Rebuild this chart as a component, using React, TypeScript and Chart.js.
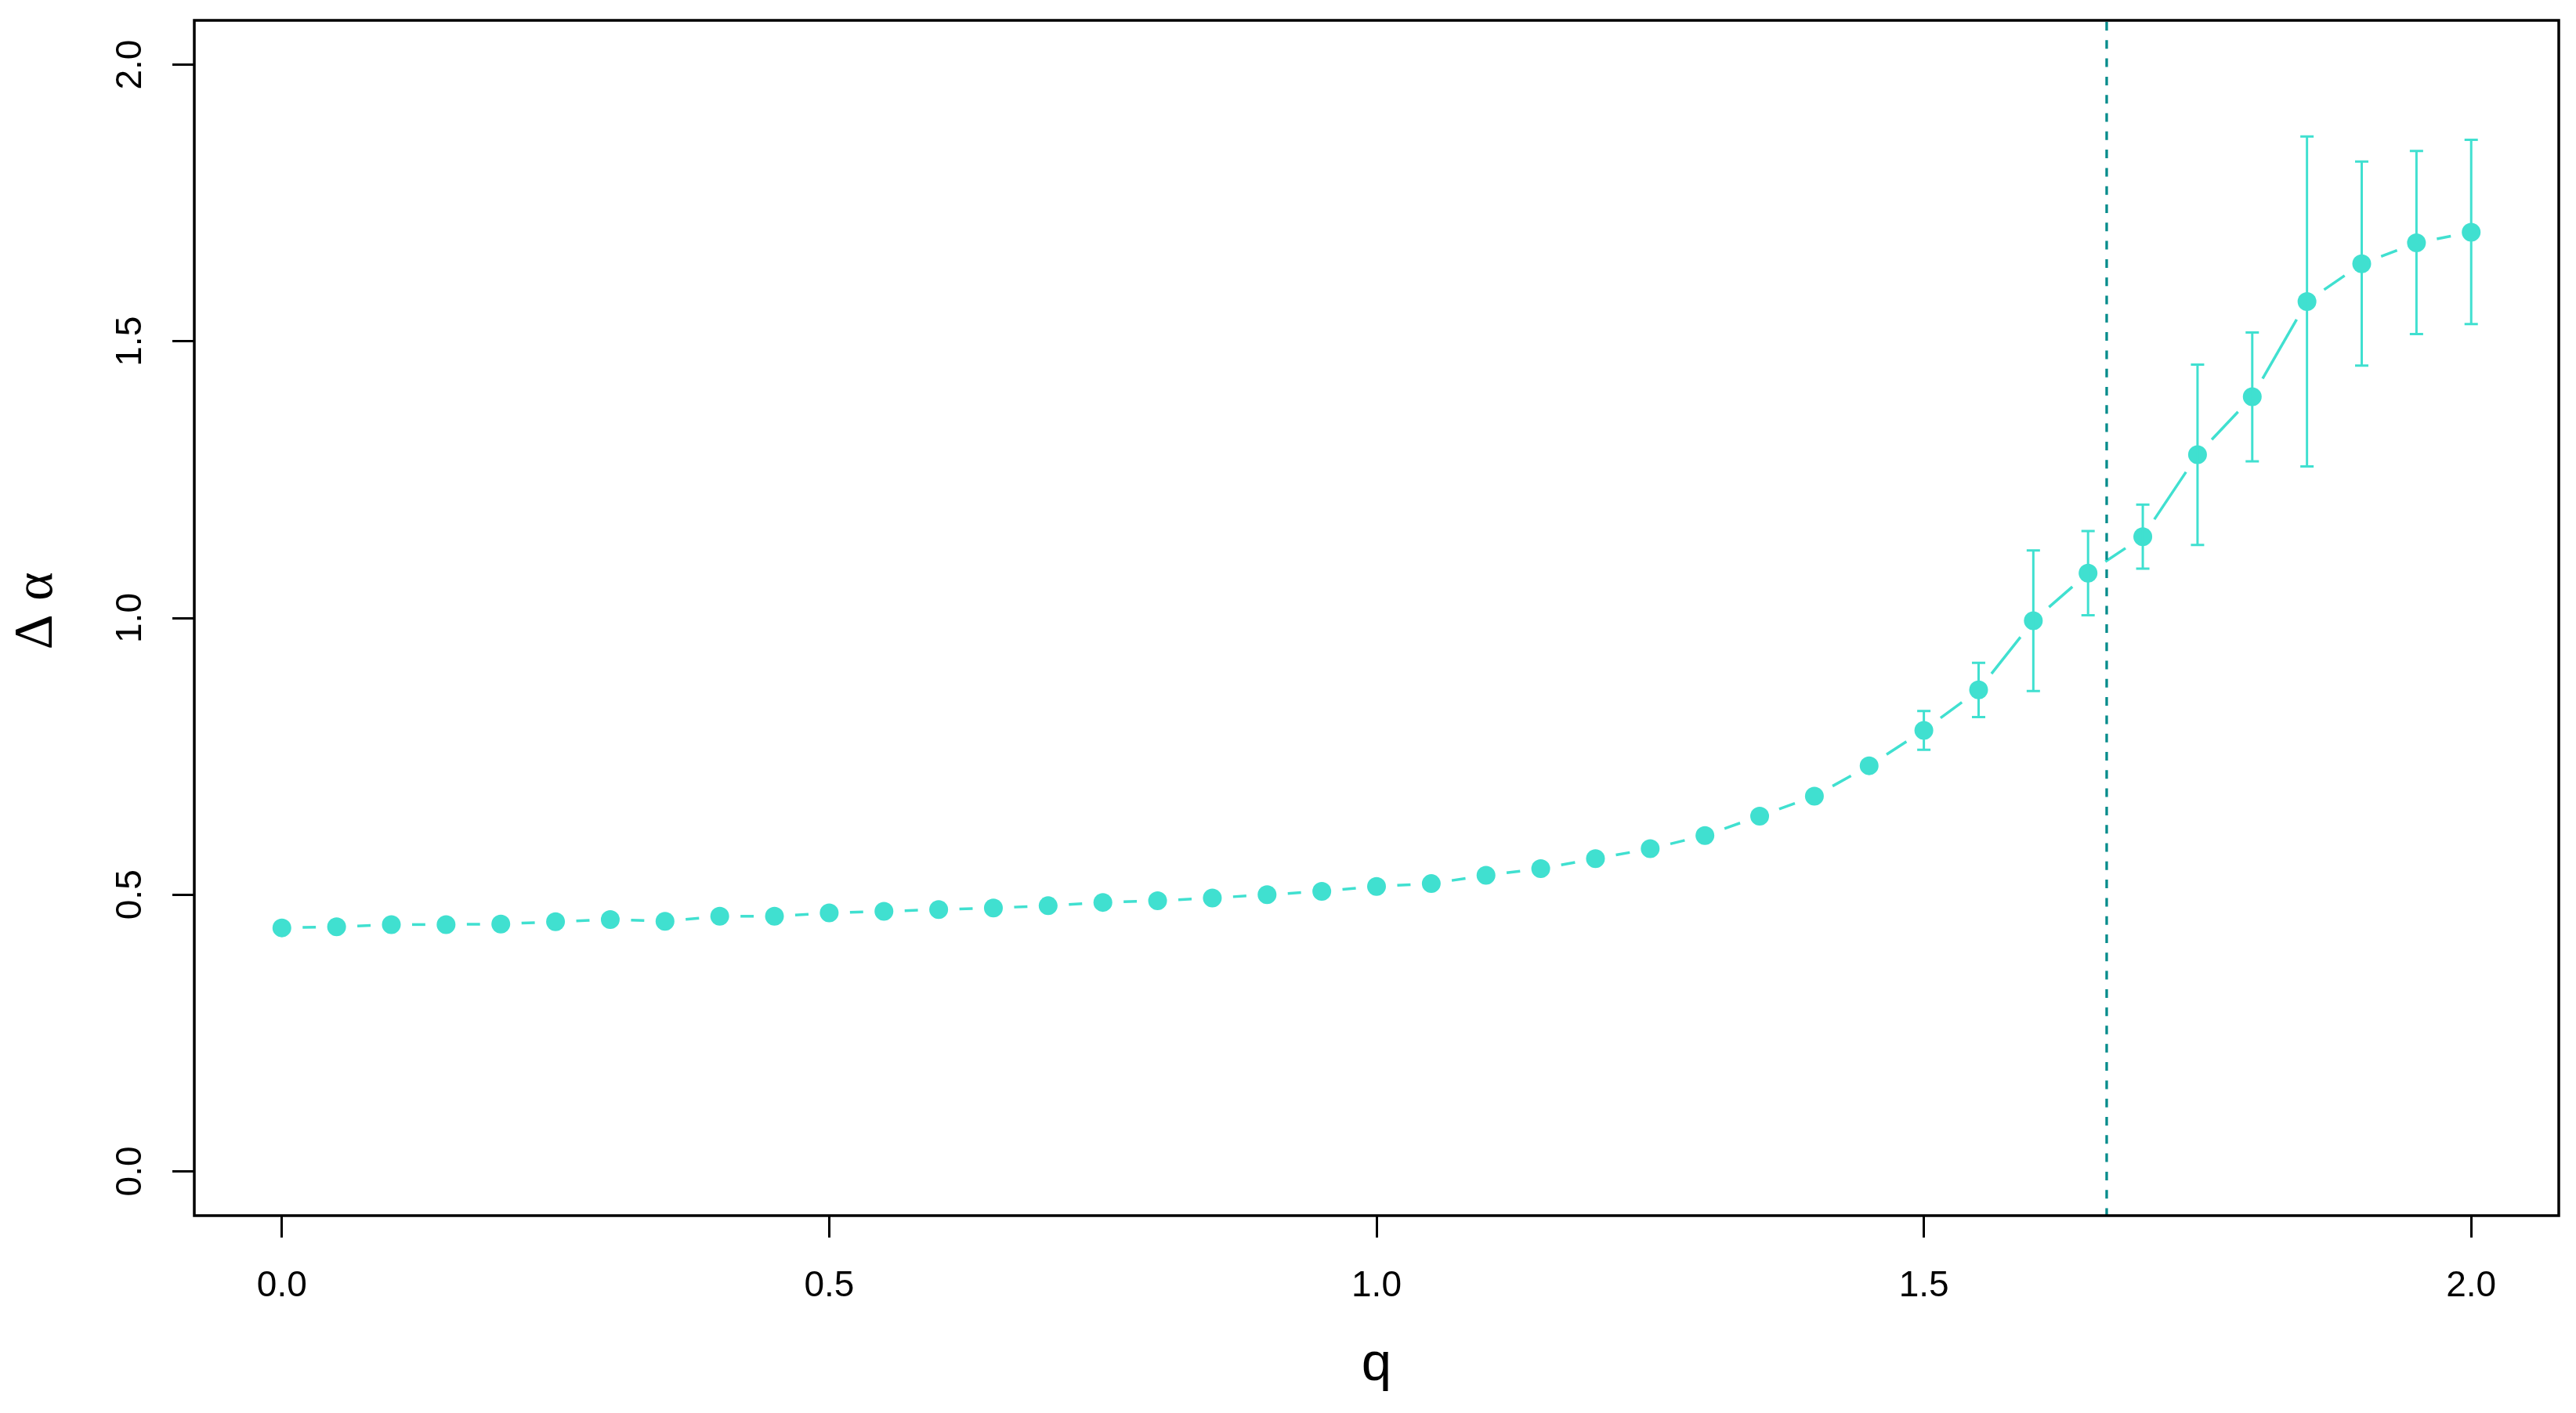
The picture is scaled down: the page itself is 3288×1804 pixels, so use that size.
import { useEffect, useRef } from 'react';
import { Chart, registerables } from 'chart.js';

Chart.register(...registerables);

// ---- data ----
const qValues = [
  0, 0.05, 0.1, 0.15, 0.2, 0.25, 0.3, 0.35, 0.4, 0.45,
  0.5, 0.55, 0.6, 0.65, 0.7, 0.75, 0.8, 0.85, 0.9, 0.95,
  1.0, 1.05, 1.1, 1.15, 1.2, 1.25, 1.3, 1.35, 1.4, 1.45,
  1.5, 1.55, 1.6, 1.65, 1.7, 1.75, 1.8, 1.85, 1.9, 1.95, 2.0,
];
const deltaAlpha = [
  0.440, 0.442, 0.446, 0.446, 0.447, 0.451, 0.455, 0.452, 0.461, 0.461,
  0.467, 0.470, 0.473, 0.476, 0.480, 0.486, 0.489, 0.494, 0.500, 0.506,
  0.515, 0.520, 0.535, 0.547, 0.565, 0.583, 0.607, 0.642, 0.678, 0.733,
  0.797, 0.870, 0.995, 1.081, 1.147, 1.295, 1.400, 1.572, 1.640, 1.678, 1.697,
];
const errLower: (number | null)[] = [
  null, null, null, null, null, null, null, null, null, null,
  null, null, null, null, null, null, null, null, null, null,
  null, null, null, null, null, null, null, null, null, null,
  0.762, 0.821, 0.868, 1.005, 1.089, 1.132, 1.283, 1.274, 1.456, 1.513, 1.531,
];
const errUpper: (number | null)[] = [
  null, null, null, null, null, null, null, null, null, null,
  null, null, null, null, null, null, null, null, null, null,
  null, null, null, null, null, null, null, null, null, null,
  0.832, 0.919, 1.122, 1.157, 1.205, 1.458, 1.516, 1.870, 1.825, 1.844, 1.864,
];
const xTickValues = [0, 0.5, 1.0, 1.5, 2.0];
const xTickLabels = ['0.0', '0.5', '1.0', '1.5', '2.0'];
const yTickValues = [0, 0.5, 1.0, 1.5, 2.0];
const yTickLabels = ['0.0', '0.5', '1.0', '1.5', '2.0'];
const vLineQ = 1.667;
const xTitle = 'q';
const yTitle = 'Δ α';

// ---- styles ----
const TURQ = '#40E0D0';
const DARKCYAN = '#008B8B';
const SANS = '"Liberation Sans", Arial, sans-serif';
const SERIF = '"Liberation Serif", "Times New Roman", serif';
const W = 3288;
const H = 1804;
const GAP = 26.5;

const rPlotPlugin = {
  id: 'rPlot',
  beforeDatasetsDraw(chart: any) {
    const ctx = chart.ctx;
    const meta = chart.getDatasetMeta(0);
    ctx.save();
    ctx.strokeStyle = TURQ;
    ctx.lineWidth = 3.5;
    ctx.lineCap = 'butt';
    for (let i = 0; i < meta.data.length - 1; i++) {
      const a = meta.data[i];
      const b = meta.data[i + 1];
      const dx = b.x - a.x;
      const dy = b.y - a.y;
      const len = Math.hypot(dx, dy);
      if (len <= 2 * GAP) continue;
      const ux = dx / len;
      const uy = dy / len;
      ctx.beginPath();
      ctx.moveTo(a.x + ux * GAP, a.y + uy * GAP);
      ctx.lineTo(b.x - ux * GAP, b.y - uy * GAP);
      ctx.stroke();
    }
    ctx.restore();
  },
  afterDatasetsDraw(chart: any) {
    const ctx = chart.ctx;
    const xs = chart.scales.x;
    const ys = chart.scales.y;
    const area = chart.chartArea;
    ctx.save();
    // error bars
    ctx.strokeStyle = TURQ;
    ctx.lineWidth = 3;
    for (let i = 0; i < qValues.length; i++) {
      const lo = errLower[i];
      const hi = errUpper[i];
      if (lo == null || hi == null) continue;
      const px = xs.getPixelForValue(qValues[i]);
      const pLo = ys.getPixelForValue(lo);
      const pHi = ys.getPixelForValue(hi);
      ctx.beginPath();
      ctx.moveTo(px, pLo);
      ctx.lineTo(px, pHi);
      ctx.moveTo(px - 8.5, pLo);
      ctx.lineTo(px + 8.5, pLo);
      ctx.moveTo(px - 8.5, pHi);
      ctx.lineTo(px + 8.5, pHi);
      ctx.stroke();
    }
    // vertical reference line
    const vx = xs.getPixelForValue(vLineQ);
    ctx.strokeStyle = DARKCYAN;
    ctx.lineWidth = 3.3;
    ctx.setLineDash([11, 12.3]);
    ctx.beginPath();
    ctx.moveTo(vx, area.top + 2);
    ctx.lineTo(vx, area.bottom);
    ctx.stroke();
    ctx.restore();
  },
  afterDraw(chart: any) {
    const ctx = chart.ctx;
    const xs = chart.scales.x;
    const ys = chart.scales.y;
    const area = chart.chartArea;
    ctx.save();
    // box
    ctx.strokeStyle = '#000';
    ctx.lineWidth = 3.5;
    ctx.strokeRect(area.left, area.top, area.right - area.left, area.bottom - area.top);
    // tick labels
    ctx.fillStyle = '#000';
    ctx.font = `46px ${SANS}`;
    ctx.textAlign = 'center';
    ctx.textBaseline = 'alphabetic';
    xTickValues.forEach((v, i) => {
      ctx.fillText(xTickLabels[i], xs.getPixelForValue(v), area.bottom + 103);
    });
    yTickValues.forEach((v, i) => {
      ctx.save();
      ctx.translate(area.left - 68, ys.getPixelForValue(v));
      ctx.rotate(-Math.PI / 2);
      ctx.fillText(yTickLabels[i], 0, 0);
      ctx.restore();
    });
    // axis titles
    ctx.font = `69px ${SANS}`;
    ctx.fillText(xTitle, (area.left + area.right) / 2, area.bottom + 210);
    ctx.save();
    ctx.translate(66, (area.top + area.bottom) / 2 - 9);
    ctx.rotate(-Math.PI / 2);
    ctx.font = `70px ${SERIF}`;
    ctx.fillText(yTitle, 0, 0);
    ctx.restore();
    ctx.restore();
  },
};

export default function App() {
  const canvasRef = useRef<HTMLCanvasElement | null>(null);

  useEffect(() => {
    const canvas = canvasRef.current;
    if (!canvas) return;
    const points = qValues.map((q, i) => ({ x: q, y: deltaAlpha[i] }));
    const chart = new Chart(canvas, {
      type: 'scatter',
      data: {
        datasets: [
          {
            data: points,
            showLine: false,
            pointRadius: 12,
            pointHoverRadius: 12,
            pointBackgroundColor: TURQ,
            pointBorderColor: TURQ,
            pointBorderWidth: 0,
          },
        ],
      },
      options: {
        responsive: false,
        animation: false,
        devicePixelRatio: 1,
        events: [],
        layout: { padding: { left: 0, top: 26, right: 22, bottom: 0 } },
        plugins: {
          legend: { display: false },
          tooltip: { enabled: false },
        },
        scales: {
          x: {
            type: 'linear',
            min: -0.08,
            max: 2.08,
            afterBuildTicks: (scale: any) => {
              scale.ticks = xTickValues.map((v) => ({ value: v }));
            },
            afterFit: (scale: any) => {
              scale.height = H - 1552;
            },
            ticks: { display: false },
            border: { display: false },
            grid: {
              drawOnChartArea: false,
              drawTicks: true,
              tickLength: 28,
              tickColor: '#000',
              tickWidth: 3,
              color: '#000',
            },
          },
          y: {
            type: 'linear',
            min: -0.08,
            max: 2.08,
            afterBuildTicks: (scale: any) => {
              scale.ticks = yTickValues.map((v) => ({ value: v }));
            },
            afterFit: (scale: any) => {
              scale.width = 248;
            },
            ticks: { display: false },
            border: { display: false },
            grid: {
              drawOnChartArea: false,
              drawTicks: true,
              tickLength: 28,
              tickColor: '#000',
              tickWidth: 3,
              color: '#000',
            },
          },
        },
      },
      plugins: [rPlotPlugin],
    } as any);
    return () => chart.destroy();
  }, []);

  return (
    <div style={{ position: 'fixed', left: 0, top: 0, width: W, height: H, background: '#fff' }}>
      <canvas ref={canvasRef} width={W} height={H} style={{ display: 'block', width: W, height: H }} />
    </div>
  );
}
